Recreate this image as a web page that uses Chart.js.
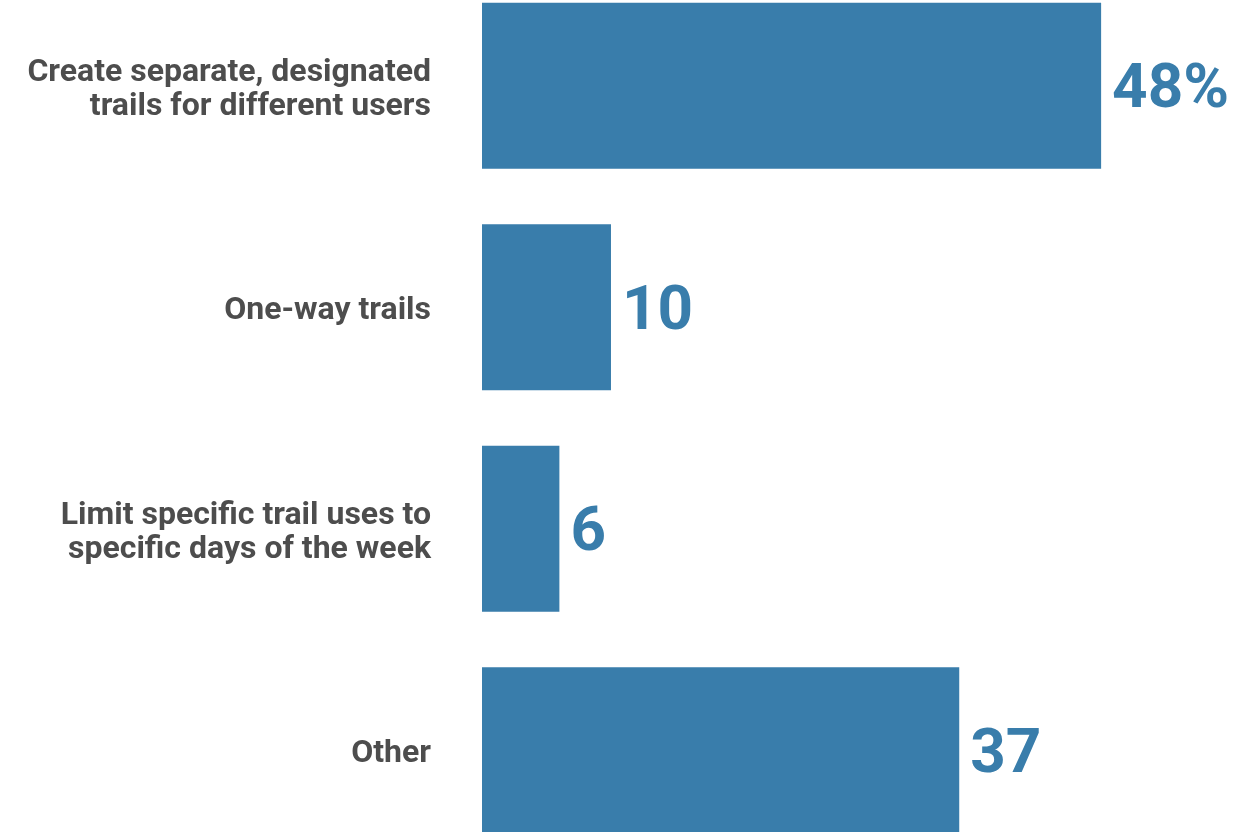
<!DOCTYPE html>
<html>
<head>
<meta charset="utf-8">
<script src="https://cdn.jsdelivr.net/npm/chart.js@4/dist/chart.umd.min.js"></script>
<style>
  html, body { margin: 0; padding: 0; background: #fff; overflow: hidden; }
  #wrap { position: absolute; left: 0; top: -25px; width: 1247px; height: 886px; }
</style>
</head>
<body>
<div id="wrap"><canvas id="chartOpciones"></canvas></div>
<script>
const categorias = [
  ['Create separate, designated', 'trails for different users'],
  'One-way trails',
  ['Limit specific trail uses to', 'specific days of the week'],
  'Other'
];
const valores = [48, 10, 6, 37];
const etiquetas = ['48%', '10', '6', '37'];

const azul = '#397dab';

// draws the big numbers at the end of each bar
const valorPlugin = {
  id: 'valorPlugin',
  afterDatasetsDraw(chart) {
    const c = chart.ctx;
    const meta = chart.getDatasetMeta(0);
    c.save();
    c.fillStyle = azul;
    c.font = 'bold 62px Roboto';
    c.textAlign = 'left';
    c.textBaseline = 'middle';
    meta.data.forEach((bar, i) => {
      c.fillText(etiquetas[i], bar.x + 11, bar.y + 6);
    });
    c.restore();
  }
};

const ctx = document.getElementById('chartOpciones');

new Chart(ctx, {
  type: 'bar',
  data: {
    labels: categorias,
    datasets: [{
      data: valores,
      backgroundColor: azul,
      borderWidth: 0,
      barPercentage: 0.75,
      categoryPercentage: 1
    }]
  },
  plugins: [valorPlugin],
  options: {
    indexAxis: 'y',
    responsive: true,
    maintainAspectRatio: false,
    animation: false,
    layout: { padding: { left: 0, right: 4, top: 0, bottom: 0 } },
    plugins: {
      legend: { display: false },
      tooltip: { enabled: false }
    },
    scales: {
      x: {
        display: false,
        min: 0,
        max: 59
      },
      y: {
        grid: { display: false },
        border: { display: false },
        afterFit(scale) {
          scale.width = 482;
          scale.paddingTop = 0;
          scale.paddingBottom = 0;
        },
        ticks: {
          color: '#4d4d4d',
          padding: 43,
          labelOffset: 4,
          font: { family: 'Roboto', size: 32, weight: 'bold', lineHeight: 1.07 }
        }
      }
    }
  }
});
</script>
</body>
</html>
